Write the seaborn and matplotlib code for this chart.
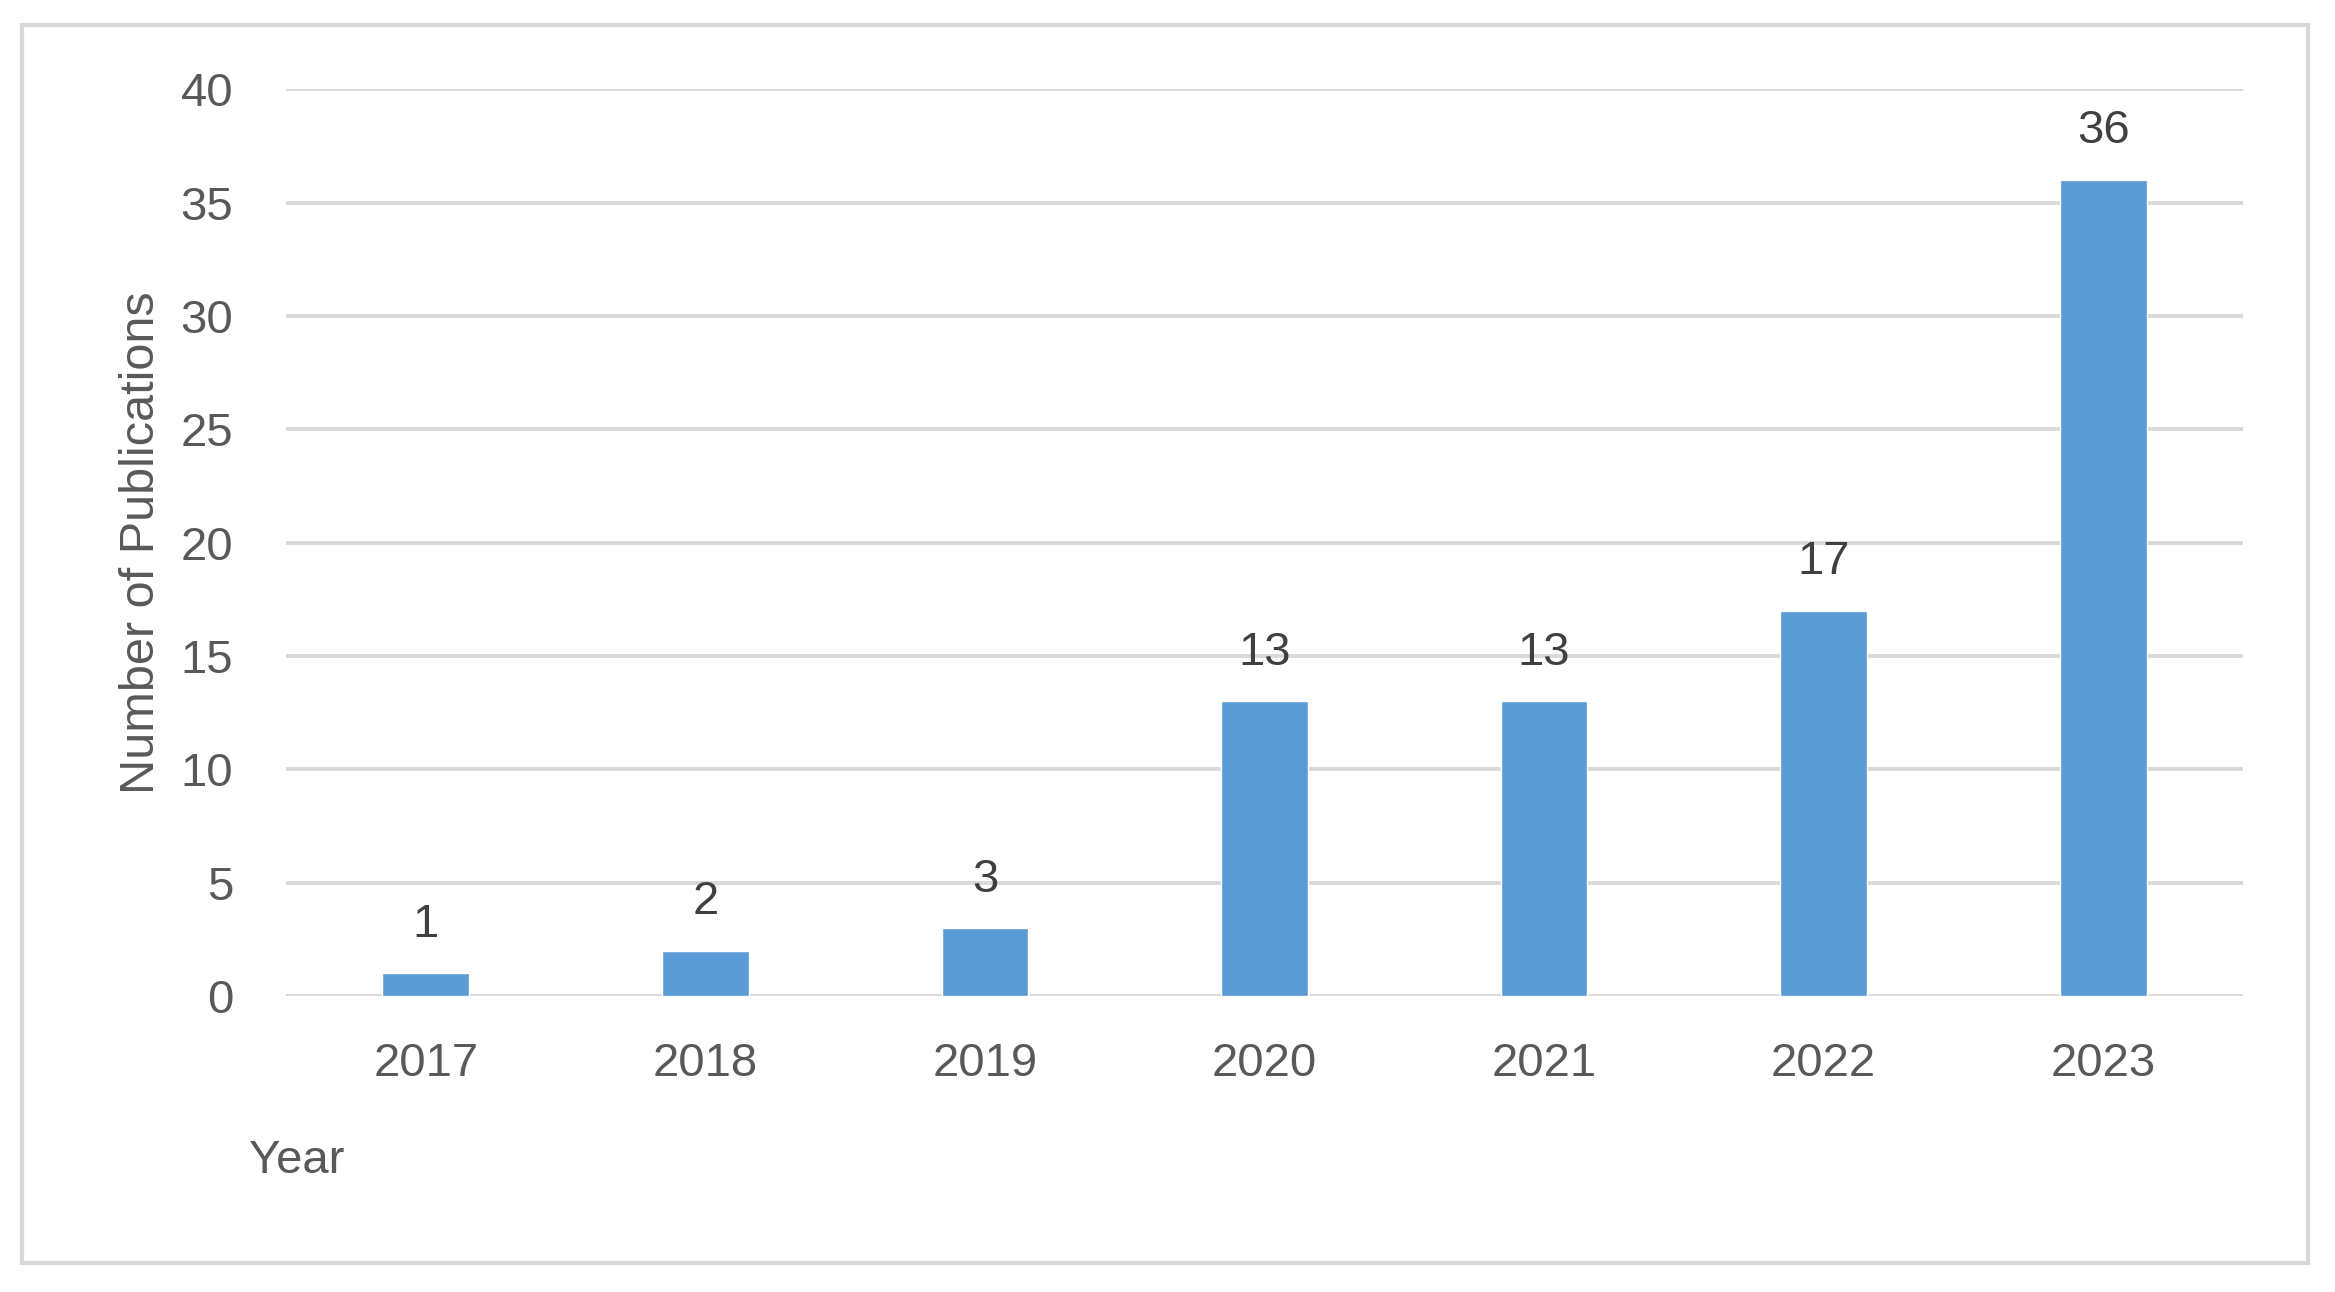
import matplotlib
matplotlib.use("Agg")
import matplotlib.pyplot as plt
import seaborn as sns
import pandas as pd
from matplotlib.patches import Rectangle

# dati
anni = ["2017", "2018", "2019", "2020", "2021", "2022", "2023"]
pubblicazioni = [1, 2, 3, 13, 13, 17, 36]
tick_y = [0, 5, 10, 15, 20, 25, 30, 35, 40]

df = pd.DataFrame({"Year": anni, "Publications": pubblicazioni})

sns.set_style("white")
plt.rcParams["font.family"] = ["Liberation Sans", "DejaVu Sans"]

BLU = "#5B9BD5"
GRIGIO_TESTO = "#595959"
GRIGIO_LINEE = "#D9D9D9"

fig = plt.figure(figsize=(23.35, 12.92), dpi=100)
ax = fig.add_axes([0.1225, 0.229, 0.8381, 0.702])

sns.barplot(data=df, x="Year", y="Publications", color=BLU, saturation=1,
            width=0.31, ax=ax, zorder=3)

ax.set_ylim(0, 40)
ax.set_xlim(-0.5, 6.5)
ax.set_yticks(tick_y)
ax.yaxis.grid(True, color=GRIGIO_LINEE, linewidth=2.8, zorder=0)
ax.set_axisbelow(True)
for lato in ax.spines.values():
    lato.set_visible(False)

ax.tick_params(axis="both", length=0, labelsize=34, labelcolor=GRIGIO_TESTO)
ax.tick_params(axis="y", pad=38)
ax.tick_params(axis="x", pad=33)

ax.bar_label(ax.containers[0], labels=[str(v) for v in pubblicazioni],
             padding=19, fontsize=34, color="#404040")

ax.set_ylabel("Number of Publications", fontsize=35, color=GRIGIO_TESTO, labelpad=12)
ax.set_xlabel("Year", fontsize=34, color=GRIGIO_TESTO, loc="left")
ax.xaxis.set_label_coords(-0.019, -0.182)
ax.xaxis.label.set_va("center")
ax.xaxis.label.set_ha("left")

# cornice esterna stile Excel
fig.patches.append(Rectangle((0.0094, 0.0224), 0.979, 0.9583, transform=fig.transFigure,
                             fill=False, edgecolor=GRIGIO_LINEE, linewidth=3))

fig.savefig("out.png", dpi=100, facecolor="white")
